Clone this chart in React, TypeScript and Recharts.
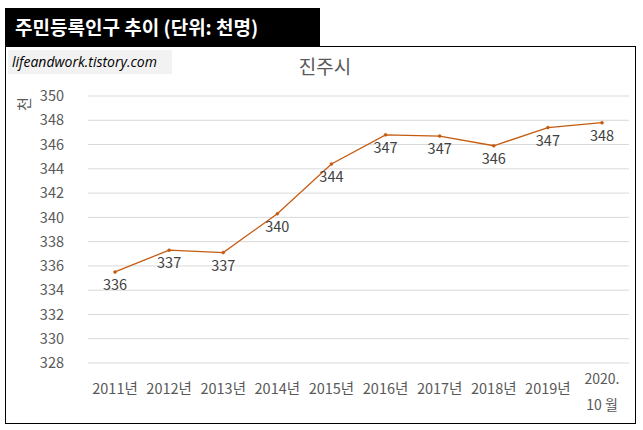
import { LineChart, Line, XAxis, YAxis, CartesianGrid, LabelList } from "recharts"

const years = ["2011년", "2012년", "2013년", "2014년", "2015년", "2016년", "2017년", "2018년", "2019년", "2020.\n10 월"]
const population = [335.5, 337.3, 337.1, 340.3, 344.4, 346.8, 346.7, 345.9, 347.4, 347.8]
const yTicks = [328, 330, 332, 334, 336, 338, 340, 342, 344, 346, 348, 350]

const data = years.map((year, i) => ({ year, value: population[i] }))

const font = "'Noto Sans CJK KR', 'Noto Sans', sans-serif"
const gray = "#595959"
const orange = "#c55a11"

function YearTick({ x, y, payload }: any) {
  const lines = String(payload.value).split("\n")
  if (lines.length > 1) {
    return (
      <text x={x} y={y} textAnchor="middle" fill={gray} fontSize={14} fontFamily={font}>
        <tspan x={x} dy={13}>{lines[0]}</tspan>
        <tspan x={x} dy={26}>{lines[1]}</tspan>
      </text>
    )
  }
  return (
    <text x={x} y={y} dy={23} textAnchor="middle" fill={gray} fontSize={14.5} fontFamily={font}>
      {payload.value}
    </text>
  )
}

export default function App() {
  return (
    <div style={{ position: "absolute", left: 0, top: 0, width: 643, height: 430, background: "#fff", fontFamily: font }}>
      <div
        style={{
          position: "absolute", left: 5, top: 8, width: 315, height: 38, background: "#000",
          color: "#fff", fontWeight: "bold", fontSize: 19, lineHeight: "38px", paddingLeft: 10, boxSizing: "border-box",
        }}
      >
        주민등록인구 추이 (단위: 천명)
      </div>
      <div style={{ position: "absolute", left: 5, top: 46, width: 631, height: 378, border: "1.5px solid #000", boxSizing: "border-box" }} />
      <div
        style={{
          position: "absolute", left: 8, top: 50, width: 164, height: 24, background: "#f2f2f2",
          fontStyle: "italic", fontSize: 14, lineHeight: "24px", paddingLeft: 4, color: "#000", boxSizing: "border-box",
          fontFamily: "'Open Sans', 'Noto Sans', sans-serif",
        }}
      >
        lifeandwork.tistory.com
      </div>
      <div style={{ position: "absolute", left: 0, top: 52, width: 650, textAlign: "center", fontSize: 19, color: gray }}>
        진주시
      </div>
      <div
        style={{
          position: "absolute", left: 14, top: 94, width: 20, height: 20, fontSize: 15, color: gray,
          transform: "rotate(-90deg)", textAlign: "center", lineHeight: "20px",
        }}
      >
        천
      </div>
      <div style={{ position: "absolute", left: 0, top: 0 }}>
        <LineChart width={643} height={430} data={data} margin={{ top: 96, right: 14, bottom: 0, left: 0 }}>
          <CartesianGrid vertical={false} stroke="#d9d9d9" strokeWidth={1} />
          <XAxis
            dataKey="year"
            axisLine={false}
            tickLine={false}
            interval={0}
            tick={<YearTick />}
            height={67}
            padding={{ left: 27, right: 27 }}
          />
          <YAxis
            domain={[328, 350]}
            ticks={yTicks}
            interval={0}
            axisLine={false}
            tickLine={false}
            width={88}
            tickMargin={18}
            tick={{ fill: gray, fontSize: 14.5, fontFamily: font }}
          />
          <Line
            type="linear"
            dataKey="value"
            stroke={orange}
            strokeWidth={1.3}
            dot={{ r: 1.5, fill: orange, stroke: orange, strokeWidth: 0.5 }}
            isAnimationActive={false}
          >
            <LabelList
              dataKey="value"
              position="bottom"
              offset={8}
              formatter={(v: any) => Math.round(Number(v))}
              style={{ fill: "#404040", fontSize: 14.5, fontFamily: font }}
            />
          </Line>
        </LineChart>
      </div>
    </div>
  )
}
